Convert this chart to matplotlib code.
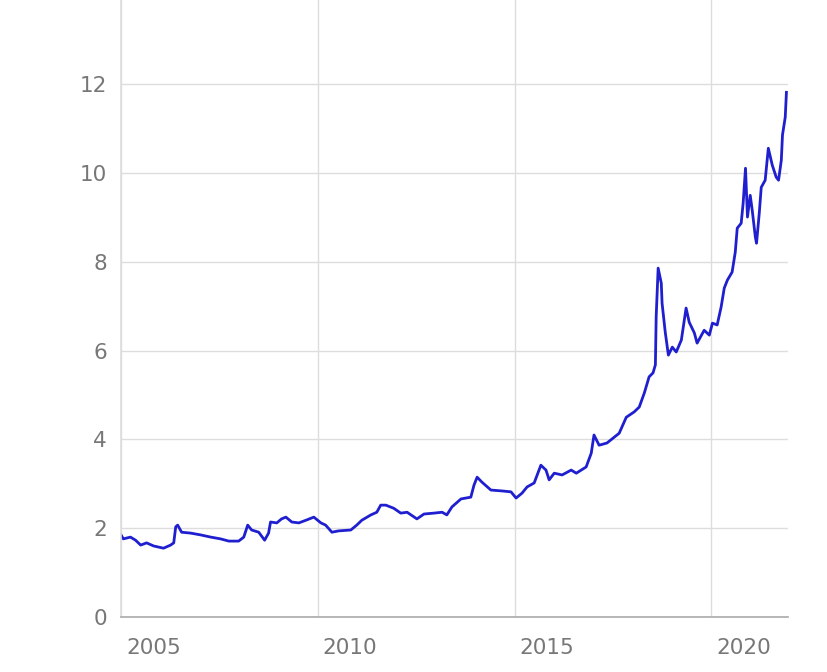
import matplotlib
matplotlib.use('Agg')
import matplotlib.pyplot as plt
import matplotlib.transforms as mtransforms

# values (decimal year, level)
years = [2005.00, 2005.06, 2005.24, 2005.37, 2005.50, 2005.65, 2005.83, 2006.08,
         2006.26, 2006.34, 2006.39, 2006.44, 2006.54, 2006.77, 2007.02, 2007.28,
         2007.53, 2007.74, 2007.99, 2008.12, 2008.22, 2008.32, 2008.50, 2008.65,
         2008.75, 2008.80, 2008.96, 2009.08, 2009.19, 2009.34, 2009.52, 2009.70,
         2009.90, 2010.08, 2010.20, 2010.36, 2010.53, 2010.84, 2010.99, 2011.12,
         2011.35, 2011.50, 2011.60, 2011.73, 2011.93, 2012.11, 2012.27, 2012.52,
         2012.70, 2012.95, 2013.16, 2013.28, 2013.41, 2013.64, 2013.89, 2013.97,
         2014.05, 2014.17, 2014.40, 2014.68, 2014.91, 2015.04, 2015.19, 2015.32,
         2015.50, 2015.67, 2015.80, 2015.88, 2016.01, 2016.21, 2016.44, 2016.57,
         2016.82, 2016.95, 2017.02, 2017.15, 2017.35, 2017.66, 2017.84, 2018.04,
         2018.17, 2018.30, 2018.42, 2018.52, 2018.58, 2018.60, 2018.65, 2018.73,
         2018.75, 2018.83, 2018.91, 2019.01, 2019.11, 2019.24, 2019.36, 2019.44,
         2019.57, 2019.64, 2019.82, 2019.95, 2020.03, 2020.15, 2020.25, 2020.33,
         2020.41, 2020.53, 2020.61, 2020.66, 2020.76, 2020.81, 2020.87, 2020.92,
         2020.99, 2021.04, 2021.12, 2021.15, 2021.22, 2021.27, 2021.37, 2021.45,
         2021.55, 2021.65, 2021.71, 2021.78, 2021.81, 2021.88, 2021.91]
values = [1.85, 1.76, 1.80, 1.73, 1.62, 1.67, 1.60, 1.55,
          1.62, 1.67, 2.03, 2.07, 1.91, 1.89, 1.85, 1.80,
          1.76, 1.71, 1.71, 1.80, 2.07, 1.96, 1.91, 1.73,
          1.89, 2.14, 2.12, 2.21, 2.25, 2.14, 2.12, 2.18,
          2.25, 2.12, 2.07, 1.91, 1.94, 1.96, 2.07, 2.18,
          2.30, 2.36, 2.52, 2.52, 2.45, 2.34, 2.36, 2.21,
          2.32, 2.34, 2.36, 2.30, 2.48, 2.66, 2.70, 2.97,
          3.15, 3.04, 2.86, 2.84, 2.82, 2.68, 2.79, 2.93,
          3.02, 3.42, 3.31, 3.09, 3.24, 3.20, 3.31, 3.24,
          3.38, 3.69, 4.10, 3.87, 3.92, 4.14, 4.50, 4.62,
          4.73, 5.05, 5.41, 5.50, 5.68, 6.76, 7.86, 7.52,
          7.07, 6.42, 5.90, 6.08, 5.97, 6.24, 6.96, 6.64,
          6.40, 6.17, 6.46, 6.35, 6.62, 6.58, 6.98, 7.41,
          7.59, 7.77, 8.22, 8.76, 8.87, 9.32, 10.11, 9.01,
          9.50, 9.17, 8.56, 8.42, 9.10, 9.68, 9.84, 10.56,
          10.18, 9.91, 9.84, 10.29, 10.86, 11.26, 11.82]

xticks = [2005, 2010, 2015, 2020]
yticks = [0, 2, 4, 6, 8, 10, 12]

fig = plt.figure(figsize=(8.28, 6.72), dpi=100)
ax = fig.add_axes([121 / 828, 1 - 617 / 672, 667 / 828, 617 / 672])

ax.plot(years, values, color='#1f1fcf', linewidth=2)

ax.set_xlim(2005.0, 2021.95)
ax.set_ylim(0, 13.9)
ax.set_xticks(xticks)
ax.set_yticks(yticks)
ax.set_xticklabels([str(y) for y in xticks])

ax.grid(True, color='#dddddd', linewidth=1)
ax.set_axisbelow(True)
for side in ['top', 'right']:
    ax.spines[side].set_visible(False)
ax.spines['left'].set_color('#dddddd')
ax.spines['left'].set_linewidth(1.2)
ax.spines['bottom'].set_color('#aaaaaa')
ax.spines['bottom'].set_linewidth(1.2)

ax.tick_params(axis='both', length=0, labelsize=15.5, labelcolor='#777777')
ax.tick_params(axis='y', pad=10)
ax.tick_params(axis='x', pad=15)

# x labels sit just to the right of their gridline
offset = mtransforms.ScaledTranslation(5 / 100, 0, fig.dpi_scale_trans)
for lab in ax.get_xticklabels():
    lab.set_horizontalalignment('left')
    lab.set_transform(lab.get_transform() + offset)

plt.savefig('out.png', dpi=100)
